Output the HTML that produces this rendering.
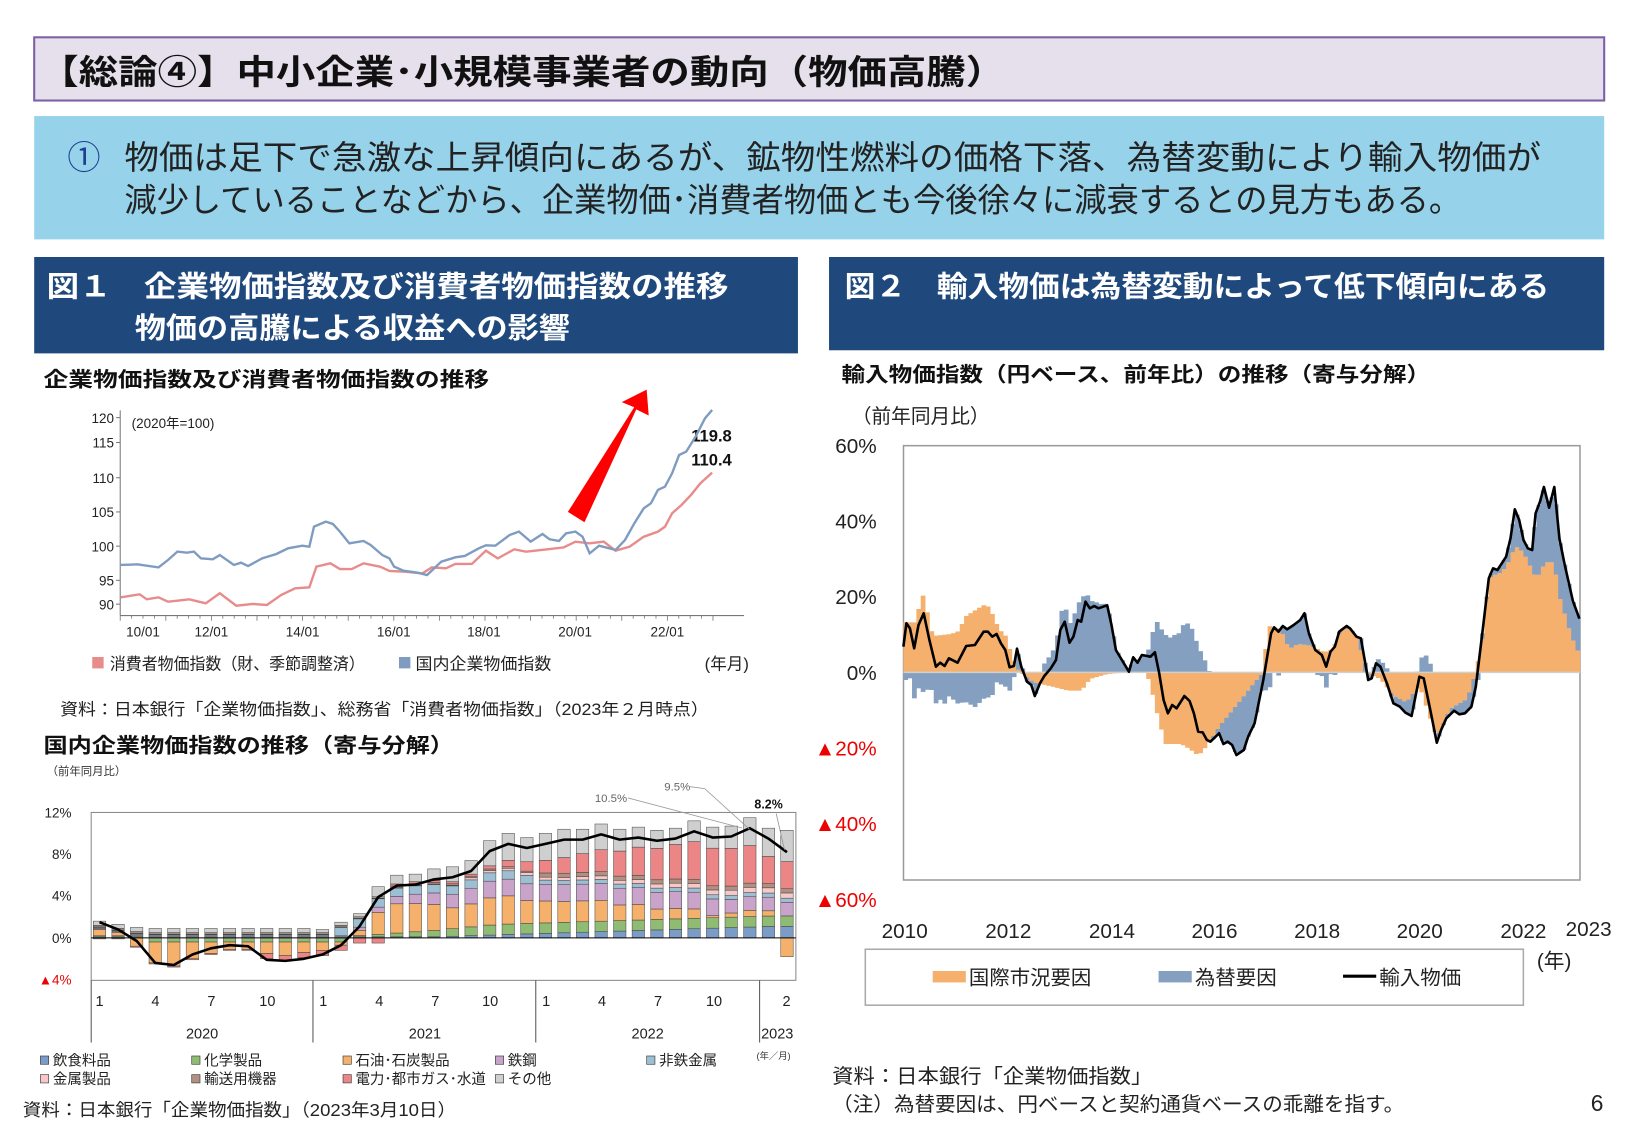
<!DOCTYPE html>
<html><head><meta charset="utf-8"><style>
html,body{margin:0;padding:0;background:#fff;}
svg{display:block;font-family:"Liberation Sans","Noto Sans CJK JP",sans-serif;}
</style></head><body>
<svg id="s" width="1625" height="1125" viewBox="0 0 1625 1125" xmlns="http://www.w3.org/2000/svg">
<g id="ov" transform="scale(1.0363)">
<rect x="33" y="36" width="1515" height="61" fill="#e6e0ec" stroke="#7e5fa6" stroke-width="2"/>
<text x="38" y="81" font-size="33" font-weight="bold" fill="#111" textLength="932" lengthAdjust="spacingAndGlyphs">【総論④】中小企業･小規模事業者の動向（物価高騰）</text>
<rect x="33" y="112" width="1515" height="119" fill="#96d3eb"/>
<text x="65" y="163" font-size="32" fill="#1f3f8f">①</text>
<text x="120" y="163" font-size="32" fill="#222" textLength="1367" lengthAdjust="spacingAndGlyphs">物価は足下で急激な上昇傾向にあるが、鉱物性燃料の価格下落、為替変動により輸入物価が</text>
<text x="120" y="204" font-size="32" fill="#222" textLength="1290" lengthAdjust="spacingAndGlyphs">減少していることなどから、企業物価･消費者物価とも今後徐々に減衰するとの見方もある。</text>
<rect x="33" y="248" width="737" height="93" fill="#1f497d"/>
<text x="45" y="286" font-size="28" font-weight="bold" fill="#fff" textLength="658" lengthAdjust="spacingAndGlyphs">図１　企業物価指数及び消費者物価指数の推移</text>
<text x="130" y="326" font-size="28" font-weight="bold" fill="#fff" textLength="420" lengthAdjust="spacingAndGlyphs">物価の高騰による収益への影響</text>
<rect x="800" y="248" width="748" height="90" fill="#1f497d"/>
<text x="815" y="286" font-size="28" font-weight="bold" fill="#fff" textLength="680" lengthAdjust="spacingAndGlyphs">図２　輸入物価は為替変動によって低下傾向にある</text>
<text x="42" y="373" font-size="20" font-weight="bold" fill="#111" textLength="430" lengthAdjust="spacingAndGlyphs">企業物価指数及び消費者物価指数の推移</text>
<g font-size="13" fill="#222" text-anchor="end">
<text x="110" y="408">120</text><text x="110" y="432">115</text><text x="110" y="466">110</text><text x="110" y="499">105</text><text x="110" y="532">100</text><text x="110" y="565">95</text><text x="110" y="588">90</text>
</g>
<text x="127" y="413" font-size="13" fill="#222">(2020年=100)</text>
<g font-size="13" fill="#222" text-anchor="middle">
<text x="138" y="614">10/01</text><text x="204" y="614">12/01</text><text x="292" y="614">14/01</text><text x="380" y="614">16/01</text><text x="467" y="614">18/01</text><text x="555" y="614">20/01</text><text x="644" y="614">22/01</text>
</g>
<text x="667" y="426" font-size="16" font-weight="bold" fill="#111">119.8</text>
<text x="667" y="449" font-size="16" font-weight="bold" fill="#111">110.4</text>
<rect x="89" y="634" width="11" height="11" fill="#e88b8b"/>
<text x="106" y="646" font-size="16" fill="#222" textLength="246" lengthAdjust="spacingAndGlyphs">消費者物価指数（財、季節調整済）</text>
<rect x="385" y="634" width="11" height="11" fill="#7f9cc0"/>
<text x="401" y="646" font-size="16" fill="#222" textLength="131" lengthAdjust="spacingAndGlyphs">国内企業物価指数</text>
<text x="680" y="646" font-size="16" fill="#222">(年月)</text>
<text x="58" y="690" font-size="16" fill="#222" textLength="626" lengthAdjust="spacingAndGlyphs">資料：日本銀行「企業物価指数」、総務省「消費者物価指数」（2023年２月時点）</text>
<text x="42" y="726" font-size="20" font-weight="bold" fill="#111" textLength="396" lengthAdjust="spacingAndGlyphs">国内企業物価指数の推移（寄与分解）</text>
<text x="45" y="748" font-size="11" fill="#333">（前年同月比）</text>
<g font-size="13" fill="#222" text-anchor="end">
<text x="69" y="789">12%</text><text x="69" y="829">8%</text><text x="69" y="869">4%</text><text x="69" y="910">0%</text><text x="69" y="950" fill="#e00">▲4%</text>
</g>
<g font-size="14" fill="#222" text-anchor="middle">
<text x="96" y="971">1</text><text x="150" y="971">4</text><text x="204" y="971">7</text><text x="258" y="971">10</text>
<text x="312" y="971">1</text><text x="366" y="971">4</text><text x="420" y="971">7</text><text x="473" y="971">10</text>
<text x="527" y="971">1</text><text x="581" y="971">4</text><text x="635" y="971">7</text><text x="689" y="971">10</text>
<text x="759" y="971">2</text>
<text x="195" y="1002">2020</text><text x="410" y="1002">2021</text><text x="625" y="1002">2022</text><text x="750" y="1002">2023</text>
</g>
<text x="730" y="1022" font-size="9" fill="#333">(年／月)</text>
<g font-size="11" fill="#666"><text x="574" y="774">10.5%</text><text x="641" y="763">9.5%</text></g>
<text x="728" y="780" font-size="12" font-weight="bold" fill="#111">8.2%</text>
<g font-size="14" fill="#222">
<rect x="39" y="1019" width="8" height="8" fill="#7a9cc6" stroke="#333" stroke-width="0.6"/><text x="51" y="1028">飲食料品</text>
<rect x="185" y="1019" width="8" height="8" fill="#8fbb72" stroke="#333" stroke-width="0.6"/><text x="197" y="1028">化学製品</text>
<rect x="331" y="1019" width="8" height="8" fill="#f5b06b" stroke="#333" stroke-width="0.6"/><text x="343" y="1028">石油･石炭製品</text>
<rect x="478" y="1019" width="8" height="8" fill="#c9a3c9" stroke="#333" stroke-width="0.6"/><text x="490" y="1028">鉄鋼</text>
<rect x="624" y="1019" width="8" height="8" fill="#9dbfd3" stroke="#333" stroke-width="0.6"/><text x="636" y="1028">非鉄金属</text>
<rect x="39" y="1037" width="8" height="8" fill="#f8c8c8" stroke="#333" stroke-width="0.6"/><text x="51" y="1046">金属製品</text>
<rect x="185" y="1037" width="8" height="8" fill="#b09080" stroke="#333" stroke-width="0.6"/><text x="197" y="1046">輸送用機器</text>
<rect x="331" y="1037" width="8" height="8" fill="#ec8585" stroke="#333" stroke-width="0.6"/><text x="343" y="1046">電力･都市ガス･水道</text>
<rect x="478" y="1037" width="8" height="8" fill="#cfcfcf" stroke="#333" stroke-width="0.6"/><text x="490" y="1046">その他</text>
</g>
<text x="22" y="1077" font-size="17" fill="#222" textLength="418" lengthAdjust="spacingAndGlyphs">資料：日本銀行「企業物価指数」（2023年3月10日）</text>
<text x="812" y="368" font-size="20" font-weight="bold" fill="#111" textLength="568" lengthAdjust="spacingAndGlyphs">輸入物価指数（円ベース、前年比）の推移（寄与分解）</text>
<text x="822" y="408" font-size="19" fill="#222">（前年同月比）</text>
<g font-size="20" fill="#222" text-anchor="end">
<text x="846" y="437">60%</text><text x="846" y="510">40%</text><text x="846" y="583">20%</text><text x="846" y="656">0%</text>
<text x="846" y="729" fill="#e00">▲20%</text><text x="846" y="802" fill="#e00">▲40%</text><text x="846" y="875" fill="#e00">▲60%</text>
</g>
<g font-size="20" fill="#222" text-anchor="middle">
<text x="873" y="905">2010</text><text x="973" y="905">2012</text><text x="1073" y="905">2014</text><text x="1172" y="905">2016</text><text x="1271" y="905">2018</text><text x="1370" y="905">2020</text><text x="1470" y="905">2022</text><text x="1533" y="903">2023</text>
</g>
<text x="1483" y="934" font-size="20" fill="#222">(年)</text>
<rect x="835" y="916" width="635" height="54" fill="#fff" stroke="#aaa" stroke-width="1.5"/>
<rect x="900" y="937" width="32" height="11" fill="#f4b06c"/><text x="935" y="950" font-size="19" fill="#222" textLength="118" lengthAdjust="spacingAndGlyphs">国際市況要因</text>
<rect x="1118" y="937" width="32" height="11" fill="#849fc0"/><text x="1153" y="950" font-size="19" fill="#222" textLength="79" lengthAdjust="spacingAndGlyphs">為替要因</text>
<line x1="1296" y1="942" x2="1328" y2="942" stroke="#000" stroke-width="3"/><text x="1331" y="950" font-size="19" fill="#222" textLength="79" lengthAdjust="spacingAndGlyphs">輸入物価</text>
<text x="803" y="1045" font-size="19" fill="#222" textLength="309" lengthAdjust="spacingAndGlyphs">資料：日本銀行「企業物価指数」</text>
<text x="803" y="1072" font-size="19" fill="#222" textLength="552" lengthAdjust="spacingAndGlyphs">（注）為替要因は、円ベースと契約通貨ベースの乖離を指す。</text>
<text x="1535" y="1072" font-size="22" fill="#222">6</text>
<g id="tl"></g>
<g id="bl"></g>
</g>
<g id="rc"></g>
</svg>
<script>
var NS='http://www.w3.org/2000/svg';
function el(p,t,a){var e=document.createElementNS(NS,t);for(var k in a)e.setAttribute(k,a[k]);p.appendChild(e);return e;}
var tl=document.getElementById('tl');
el(tl,'line',{x1:116,y1:396,x2:116,y2:594,stroke:'#777','stroke-width':1});
el(tl,'line',{x1:116,y1:594,x2:718,y2:594,stroke:'#777','stroke-width':1});
[403,427,461,494,527,560,583].forEach(function(y){el(tl,'line',{x1:112,y1:y,x2:116,y2:y,stroke:'#777'});});
for(var i=0;i<=13*4;i++){var x=116+i*11;el(tl,'line',{x1:x,y1:594,x2:x,y2:i%4==0?599:597,stroke:'#777','stroke-width':0.8});}
function cv(p){return p.map(function(q){return (138+(q[0]-237)*0.4546).toFixed(1)+','+((380+q[1]/3)/1.0363).toFixed(1);}).join(' ');}
var blue=[[190,555],[225,553],[270,562],[290,540],[310,515],[330,518],[345,515],[360,535],[385,538],[400,525],[430,555],[445,548],[460,558],[490,535],[520,522],[545,505],[575,497],[590,500],[600,440],[625,425],[640,432],[655,455],[675,490],[705,483],[720,495],[745,525],[760,535],[770,560],[790,572],[820,578],[840,585],[870,545],[900,532],[920,528],[950,505],[965,496],[985,497],[1015,465],[1035,455],[1060,485],[1085,462],[1100,478],[1120,483],[1135,460],[1155,455],[1170,470],[1185,520],[1205,497],[1240,510],[1260,480],[1280,430],[1300,385],[1315,370],[1330,330],[1345,320],[1360,280],[1375,225],[1390,215],[1410,170],[1430,115],[1445,90]];
var red=[[190,652],[230,643],[245,658],[270,652],[290,665],[310,662],[335,658],[370,670],[400,640],[435,677],[470,672],[500,675],[530,645],[560,625],[590,622],[605,560],[635,550],[655,567],[680,567],[705,550],[740,560],[760,573],[790,575],[830,580],[850,562],[880,565],[900,552],[935,552],[965,512],[990,535],[1025,508],[1050,515],[1100,507],[1130,502],[1155,485],[1185,490],[1215,485],[1240,512],[1270,500],[1300,470],[1330,455],[1345,440],[1360,400],[1380,375],[1400,345],[1420,310],[1445,278]];
el(tl,'polyline',{points:cv(red),fill:'none',stroke:'#e88b8b','stroke-width':2.3});
el(tl,'polyline',{points:cv(blue),fill:'none',stroke:'#7f9cc0','stroke-width':2.3});
el(tl,'polygon',{points:'548,494 564,504 614,395 626,401 624,376 600,388 612,393',fill:'#f00'});
var bl=document.getElementById('bl');
el(bl,'rect',{x:88,y:784,width:680,height:162,fill:'#fff',stroke:'#888','stroke-width':1});
[302,517,733].forEach(function(x){el(bl,'line',{x1:x,y1:946,x2:x,y2:1006,stroke:'#555'});});
el(bl,'line',{x1:88,y1:946,x2:88,y2:1006,stroke:'#555'});
var T=[1.5,0.8,-0.3,-2.4,-2.6,-1.6,-1.0,-0.7,-0.8,-2.1,-2.2,-2.0,-1.6,-0.7,1.1,3.9,5.0,5.1,5.6,5.8,6.4,8.3,9.0,8.6,9.0,9.4,9.4,9.9,9.4,9.6,9.3,9.5,10.2,9.6,9.7,10.5,9.5,8.2];
var oil=[0.6,0.3,-0.8,-2.0,-2.3,-1.6,-1.1,-0.7,-0.7,-1.1,-1.3,-1.0,-0.8,-0.3,0.5,2.1,2.8,2.7,2.5,2.0,2.2,2.6,2.7,2.2,2.1,2.0,2.0,2.0,1.5,1.5,1.0,1.0,0.9,0.2,0.4,0.6,0.5,-1.8];
var cols=['#7a9cc6','#8fbb72','#f5b06b','#c9a3c9','#9dbfd3','#f8c8c8','#b09080','#ec8585','#cfcfcf'];
var Y0=905,K=10.08;
for(var m=0;m<38;m++){
  var food=m<18?0.1:Math.min(1.1,0.1+(m-18)*0.055);
  var chem=m<3?0.1:(m<14?-0.4:Math.min(1.0,(m-13)*0.12));
  var steel=m<14?0.1:Math.min(1.6,0.3+(m-14)*0.2); if(m>33)steel=1.3;
  var nonf=m<13?0.1:(m<24?0.8:0.4);
  var metal=m<20?0.05:Math.min(0.5,0.2+(m-20)*0.02);
  var tr=m<24?0.15:0.4;
  var elec=m<9?-0.1:(m<16?-0.5:(m<21?0.2:Math.min(3.6,0.3+(m-21)*0.3))); if(m>=36)elec=2.6;
  var comp=[food,chem,oil[m],steel,nonf,metal,tr,elec,0];
  var pos=0;comp.forEach(function(v){if(v>0)pos+=v;});
  comp[8]=m<12?0.4:Math.max(0.3,T[m]+1.0-pos); if(m==37)comp[8]=3.0;
  var cx=96+m*17.93,up=Y0,dn=Y0;
  comp.forEach(function(v,i){
    if(v>=0){var h=v*K;el(bl,'rect',{x:cx-6,y:up-h,width:12,height:h,fill:cols[i],stroke:'#444','stroke-width':0.5});up-=h;}
    else{var h=-v*K;el(bl,'rect',{x:cx-6,y:dn,width:12,height:h,fill:cols[i],stroke:'#444','stroke-width':0.5});dn+=h;}
  });
}
el(bl,'line',{x1:88,y1:Y0,x2:768,y2:Y0,stroke:'#000','stroke-width':1});
var pts=T.map(function(v,m){return (96+m*17.93).toFixed(1)+','+(Y0-v*K).toFixed(1);}).join(' ');
el(bl,'polyline',{points:pts,fill:'none',stroke:'#000','stroke-width':2.5,'stroke-linejoin':'round'});
el(bl,'polyline',{points:'606,770 716,799',fill:'none',stroke:'#999','stroke-width':0.8});
el(bl,'polyline',{points:'665,759 680,761 723,800',fill:'none',stroke:'#999','stroke-width':0.8});
el(bl,'polyline',{points:'749,785 757,820',fill:'none',stroke:'#999','stroke-width':0.8});
var rc=document.getElementById('rc');
function X(zx){return 860+zx/2.306;} function Yz(zy){return 420+zy/3;}
var Z0=Yz(757);
el(rc,'rect',{x:903.5,y:Yz(77),width:1580-903.5,height:Yz(1380)-Yz(77),fill:'#fff',stroke:'#999','stroke-width':1.5});
var line=[[100,680],[107,610],[115,625],[125,685],[135,615],[147,580],[160,660],[175,740],[185,728],[195,738],[205,715],[225,728],[245,678],[265,675],[285,635],[295,635],[305,650],[315,642],[325,670],[335,690],[345,742],[355,738],[362,686],[372,740],[385,785],[395,795],[403,828],[415,790],[425,768],[440,745],[452,720],[462,630],[472,605],[483,668],[492,650],[502,600],[510,605],[520,545],[530,565],[540,558],[550,565],[570,556],[580,615],[590,690],[620,755],[630,712],[640,728],[650,705],[670,710],[680,697],[690,760],[700,840],[710,880],[720,855],[730,865],[748,828],[760,843],[770,880],[780,935],[790,937],[800,960],[808,965],[820,950],[828,940],[838,972],[848,965],[858,975],[868,1005],[885,990],[895,950],[910,910],[930,780],[948,640],[955,622],[965,635],[975,618],[985,628],[1000,615],[1015,600],[1025,580],[1035,640],[1050,690],[1065,705],[1075,740],[1085,695],[1095,680],[1105,635],[1122,618],[1130,625],[1145,650],[1155,655],[1172,780],[1180,775],[1190,730],[1200,740],[1215,790],[1230,850],[1245,860],[1258,878],[1272,888],[1290,770],[1300,775],[1315,870],[1330,968],[1340,930],[1352,895],[1370,872],[1382,883],[1395,880],[1410,860],[1420,800],[1435,640],[1450,475],[1460,445],[1470,450],[1490,410],[1500,355],[1510,268],[1520,300],[1530,360],[1540,385],[1550,390],[1558,280],[1568,245],[1577,201],[1589,263],[1601,201],[1613,357],[1625,434],[1644,543],[1659,596]];
var oran=[[100,150],[130,150],[140,230],[150,230],[160,130],[175,110],[210,115],[230,125],[240,165],[270,190],[290,205],[300,190],[320,130],[335,110],[345,70],[360,15],[370,0],[380,-10],[400,-30],[450,-45],[480,-55],[510,-55],[530,-20],[570,-5],[620,0],[660,0],[670,-40],[690,-150],[705,-215],[740,-215],[760,-230],[780,-250],[800,-220],[830,-160],[880,-80],[910,-30],[930,0],[940,140],[970,130],[990,70],[1010,85],[1040,80],[1070,60],[1090,70],[1110,130],[1130,130],[1150,100],[1165,0],[1200,-20],[1230,-70],[1260,-90],[1290,-40],[1310,-120],[1330,-195],[1360,-110],[1400,-80],[1420,0],[1435,100],[1450,280],[1460,290],[1480,300],[1500,340],[1510,380],[1530,360],[1560,280],[1580,330],[1600,330],[1615,220],[1640,110],[1660,50]];
function itp(a,x,f){for(var i=1;i<a.length;i++){if(x<=a[i][0]){var t=(x-a[i-1][0])/(a[i][0]-a[i-1][0]);return f(a[i-1][1])+(f(a[i][1])-f(a[i-1][1]))*t;}}return f(a[a.length-1][1]);}
for(var zx=100;zx<1660;zx+=10){
  var c=zx+5,lv=itp(line,c,function(v){return 757-v;}),ov=itp(oran,c,function(v){return v;}),bv=lv-ov;
  var x=X(zx),w=10/2.306+0.4;
  if(ov>=0)el(rc,'rect',{x:x,y:Z0-ov/3,width:w,height:ov/3,fill:'#f4b06c'});
  else el(rc,'rect',{x:x,y:Z0,width:w,height:-ov/3,fill:'#f4b06c'});
  if(bv>=0){var b=ov>0?ov:0;el(rc,'rect',{x:x,y:Z0-(b+bv)/3,width:w,height:bv/3,fill:'#849fc0'});}
  else{var b=ov<0?-ov:0;el(rc,'rect',{x:x,y:Z0+b/3,width:w,height:-bv/3,fill:'#849fc0'});}
}
el(rc,'line',{x1:903.5,y1:Z0,x2:1580,y2:Z0,stroke:'#d0d0d0','stroke-width':1.5});
el(rc,'polyline',{points:line.map(function(p){return X(p[0]).toFixed(1)+','+Yz(p[1]).toFixed(1);}).join(' '),fill:'none',stroke:'#000','stroke-width':2.6,'stroke-linejoin':'round'});
</script>
</body></html>
